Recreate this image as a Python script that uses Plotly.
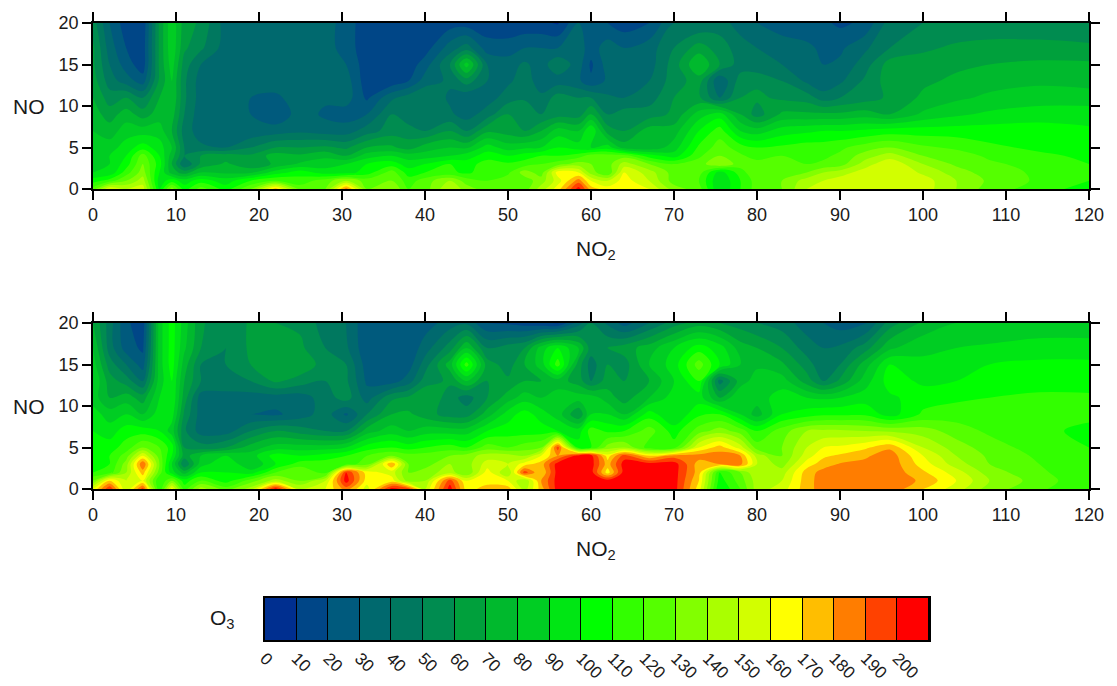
import plotly.graph_objects as go

W, H = 1117, 686
no2 = [0,2,4,6,8,9.5,11,13,16,19,22,25,28,30.5,33,36,38,40,43,45,47.5,50,52,54,56,58.5,60,62,64,67,70,73,75.5,78,80,83,86,88,90,93,96,100,104,108,114,120]
no = [20,17,15,13,11,9,7,5,4,3,2,1,0]
levels = list(range(0, 201, 10))
colors = ["#002f90","#004687","#005a7d","#00696e","#00785f","#008c50","#00a03c","#00b92d","#00cd23","#00e614","#00ff00",
          "#32ff00","#55ff00","#82ff00","#aaff00","#d2ff00","#ffff00","#ffbe00","#ff7d00","#ff4100","#ff0000"]

o3_top = [
 [55,30,14,12,62,88,65,58,35,35,35,35,35,25,14,13,13,13,15,15,13,12,12,12,9,30,25,20,14,20,40,40,45,35,30,25,24,22,18,22,45,50,52,52,52,52],
 [62,35,20,14,62,88,62,52,35,35,35,35,35,25,14,13,13,15,35,45,25,25,30,30,30,35,25,35,30,35,50,65,55,45,40,35,32,28,28,38,50,58,62,64,64,62],
 [62,40,25,14,62,85,55,40,35,35,35,35,35,30,14,13,14,25,50,85,40,35,42,35,48,35,18,35,40,35,55,80,60,45,42,40,35,30,32,45,65,65,68,70,72,72],
 [65,45,35,25,62,80,52,35,35,35,35,35,35,35,14,13,20,35,42,55,40,38,45,35,35,32,22,32,38,40,55,65,30,55,58,50,38,32,38,52,65,68,72,76,78,76],
 [70,55,60,50,70,80,52,35,35,30,28,35,32,35,18,38,45,50,38,32,35,45,48,42,55,50,50,42,40,45,60,62,40,60,62,58,55,45,50,55,62,72,78,82,85,85],
 [75,65,75,65,75,75,50,33,32,30,22,35,28,25,30,50,42,45,42,35,45,60,60,50,55,55,70,50,55,55,62,85,95,70,55,72,72,72,72,75,70,82,88,92,95,95],
 [80,75,85,85,85,70,45,35,32,32,35,38,35,35,45,55,55,50,60,50,68,65,60,70,85,80,100,65,60,75,75,100,115,90,85,95,98,100,100,102,105,105,105,105,105,102],
 [85,85,95,105,95,80,50,42,40,50,60,60,62,58,70,72,65,75,80,78,95,85,88,90,100,95,90,95,75,72,85,112,125,115,110,112,115,115,118,125,130,122,118,112,108,105],
 [88,90,100,125,100,75,50,60,65,62,75,72,78,70,85,90,85,85,90,95,105,100,105,110,110,115,125,125,125,105,95,118,130,122,115,120,118,118,122,135,145,130,125,118,112,108],
 [90,90,105,130,105,70,40,62,72,62,72,82,85,90,100,105,95,100,110,105,115,112,115,120,125,135,130,125,145,130,120,125,140,125,125,125,120,122,125,145,158,140,128,122,116,110],
 [90,92,115,135,100,75,65,80,78,78,95,105,95,95,105,125,105,110,112,108,115,118,135,125,165,160,135,120,160,145,125,125,95,115,130,128,130,140,145,155,160,148,135,125,118,112],
 [105,115,130,145,95,105,95,105,95,110,120,115,125,140,125,130,115,125,140,125,120,125,125,135,155,185,160,150,165,150,125,120,90,110,125,130,145,150,155,160,160,155,140,128,118,110],
 [125,160,150,155,100,135,105,125,105,130,175,125,130,185,130,140,120,125,150,135,125,130,125,145,165,205,175,165,168,160,135,125,90,110,125,130,150,155,158,160,160,155,140,125,115,105],
]
o3_bottom = [
 [70,45,22,14,85,105,85,62,50,62,60,58,45,40,22,20,20,25,35,38,20,18,15,12,9,35,50,38,25,40,55,65,60,55,50,45,35,30,25,28,55,72,80,80,82,82],
 [80,45,25,18,85,105,82,60,50,62,68,62,50,42,22,22,22,35,55,80,50,55,60,85,100,80,55,60,65,75,90,105,95,75,70,60,45,40,42,55,78,88,90,92,95,95],
 [85,55,40,25,85,105,75,50,50,60,68,68,55,50,25,22,25,45,75,115,65,55,70,85,115,65,45,60,55,80,95,125,100,80,78,72,55,42,50,75,100,92,92,100,102,102],
 [90,65,55,40,85,100,70,50,48,50,62,55,50,52,28,25,35,55,62,80,60,62,70,70,75,65,50,65,60,70,90,110,45,75,85,85,65,50,62,85,105,98,100,105,106,105],
 [85,70,75,65,90,100,65,35,35,35,35,35,45,55,35,58,62,70,55,45,60,75,85,80,85,85,85,75,65,80,95,95,70,90,85,95,90,88,90,95,98,105,108,110,112,112],
 [95,85,90,80,95,95,58,35,30,30,28,35,45,28,50,70,72,65,55,55,75,95,105,95,85,60,90,90,80,105,90,108,110,90,75,100,105,108,108,108,95,112,115,115,115,112],
 [100,95,105,105,100,85,52,35,35,50,60,55,50,50,75,85,80,85,85,85,100,105,105,105,100,95,115,108,110,125,105,125,135,125,110,125,140,142,142,140,138,135,125,118,112,108],
 [105,105,115,130,120,105,60,55,60,75,85,85,85,90,105,110,105,110,115,110,125,120,125,130,195,105,110,135,140,115,115,160,175,155,125,130,150,160,162,168,178,150,135,125,115,110],
 [108,110,125,160,125,100,65,80,90,85,105,100,105,110,120,130,125,125,130,135,145,145,140,160,180,205,205,165,195,170,185,185,185,180,145,130,155,168,172,178,186,160,140,128,118,112],
 [110,110,135,190,130,90,50,85,100,80,100,115,115,115,125,180,130,125,140,135,155,150,165,175,205,205,205,175,205,205,205,175,180,185,150,135,165,175,181,183,187,165,145,130,120,112],
 [110,115,140,175,125,95,75,100,100,95,120,130,115,200,165,155,130,135,145,130,165,140,195,170,205,205,205,165,205,205,205,175,110,130,150,145,175,184,185,186,187,172,155,135,122,112],
 [130,170,150,160,110,130,105,120,105,125,145,130,150,205,165,165,135,140,195,160,165,160,140,180,205,205,205,205,205,205,205,170,105,125,145,150,176,185,186,187,187,178,160,140,125,112],
 [160,200,150,195,110,165,115,145,125,145,205,150,160,185,155,205,195,150,205,165,175,175,145,175,205,205,205,205,205,205,205,165,100,120,145,155,176,185,186,187,187,170,155,135,122,110],
]

x_ticks = list(range(0, 121, 10))
y_ticks = [0, 5, 10, 15, 20]
n = len(colors)
scale = []
for i, c in enumerate(colors):
    scale += [[i / n, c], [(i + 1) / n, c]]

FONT = "Liberation Sans, Arial, sans-serif"
INK = "#1a1a1a"
fig = go.Figure()
for i, z in enumerate([o3_top, o3_bottom]):
    s = "" if i == 0 else "2"
    fig.add_trace(go.Contour(x=no2, y=no[::-1], z=z[::-1], xaxis="x" + s, yaxis="y" + s,
                             colorscale=scale, zmin=0, zmax=210, autocontour=False, showscale=False,
                             contours=dict(start=0, end=210, size=10, coloring="fill", showlines=False),
                             line=dict(width=0, smoothing=1.0)))
fig.add_trace(go.Heatmap(x=levels + [210], y=[0, 1], z=[levels], xaxis="x3", yaxis="y3",
                         colorscale=scale, zmin=0, zmax=210, showscale=False, xgap=1))

def dom(a, b):
    return [1 - b / H, 1 - a / H]

def label(text, px, py):
    return dict(text=text, xref="paper", yref="paper", x=px / W, y=1 - py / H, showarrow=False,
                xanchor="center", yanchor="middle", font=dict(family=FONT, size=21, color=INK))

axis = dict(showline=True, linecolor="black", linewidth=1.5, mirror="allticks", ticks="outside", automargin=False,
            ticklen=9, tickwidth=1.5, tickcolor="black", showgrid=False, zeroline=False,
            tickfont=dict(family=FONT, size=18, color=INK))
xa = dict(axis, domain=[93 / W, 1089 / W], range=[0, 120], tickvals=x_ticks)
ya = dict(axis, range=[0, 20], tickvals=y_ticks)
fig.update_layout(
    width=W, height=H, margin=dict(l=0, r=0, t=0, b=0), paper_bgcolor="white", plot_bgcolor="white",
    showlegend=False, font=dict(family=FONT),
    xaxis=dict(xa, anchor="y"), yaxis=dict(ya, domain=dom(23, 189), anchor="x"),
    xaxis2=dict(xa, anchor="y2"), yaxis2=dict(ya, domain=dom(323, 489), anchor="x2"),
    xaxis3=dict(domain=[265 / W, 929 / W], range=[0, 210], anchor="y3", tickvals=levels, ticks="", tickangle=45, automargin=False,
                showline=True, linecolor="black", linewidth=1.5, mirror=True, showgrid=False, zeroline=False,
                tickfont=dict(family=FONT, size=17, color=INK)),
    yaxis3=dict(domain=dom(598, 640), range=[0, 1], anchor="x3", showticklabels=False, ticks="", automargin=False,
                showline=True, linecolor="black", linewidth=1.5, mirror=True, showgrid=False, zeroline=False),
    shapes=[dict(type="rect", xref="x3 domain", yref="y3 domain", x0=0, x1=1, y0=0, y1=1,
                 fillcolor="black", line_width=0, layer="below")],
    annotations=[
        label("NO", 29, 106), label("NO", 29, 406),
        label("NO<sub>2</sub>", 596, 250), label("NO<sub>2</sub>", 596, 550),
        label("O<sub>3</sub>", 222, 619),
    ],
)
for z in o3_top + o3_bottom:
    assert len(z) == len(no2), len(z)
fig.write_html("out.html", config={"displayModeBar": False}, post_script="document.body.style.margin='0';")
